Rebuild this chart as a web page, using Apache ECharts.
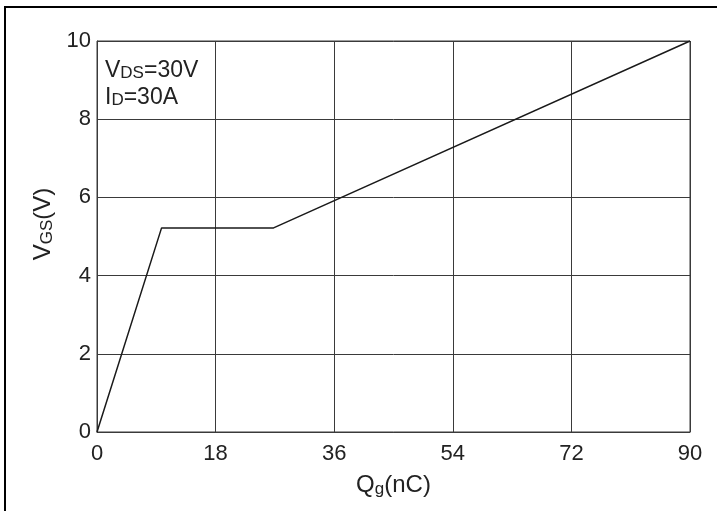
<!DOCTYPE html>
<html>
<head>
<meta charset="utf-8">
<script src="https://cdn.jsdelivr.net/npm/echarts@6/dist/echarts.min.js"></script>
<style>
html,body{margin:0;padding:0;background:#fff;}
#chart{width:717px;height:511px;}
</style>
</head>
<body>
<div id="chart"></div>
<script>
// Data (Qg in nC, VGS in V)
var qgValues = [0, 9.8, 26.8, 90];
var vgsValues = [0, 5.22, 5.22, 10];
var xTicks = [0, 18, 36, 54, 72, 90];
var yTicks = [0, 2, 4, 6, 8, 10];

var seriesData = qgValues.map(function (q, i) { return [q, vgsValues[i]]; });

var chart = echarts.init(document.getElementById('chart'), null, {renderer: 'canvas'});
var FONT = '"Liberation Sans", Arial, sans-serif';
var gridColor = '#3a3a3a';
var textColor = '#222';

function richSet(big, small, lh, subPad) {
  return {
    b: {fontSize: big, fontFamily: FONT, color: textColor, lineHeight: lh, verticalAlign: 'bottom'},
    s: {fontSize: small, fontFamily: FONT, color: textColor, lineHeight: lh, verticalAlign: 'bottom', padding: [0, 0, subPad || 0, 0]}
  };
}

chart.setOption({
  animation: false,
  backgroundColor: '#ffffff',
  grid: {left: 97, top: 41, right: 27, bottom: 79, show: true, borderColor: gridColor, borderWidth: 1, backgroundColor: 'transparent'},
  xAxis: {
    type: 'value',
    min: xTicks[0], max: xTicks[xTicks.length - 1], interval: 18,
    axisLine: {show: true, lineStyle: {color: gridColor, width: 1}},
    axisTick: {show: false},
    splitLine: {show: true, lineStyle: {color: gridColor, width: 1}},
    axisLabel: {color: textColor, fontSize: 22, fontFamily: FONT, margin: 11},
    name: '{b|Q}{s|g}{b|(nC)}',
    nameLocation: 'middle',
    nameGap: 41,
    nameTextStyle: {color: textColor, fontFamily: FONT, rich: richSet(24, 17, 24, -1)}
  },
  yAxis: {
    type: 'value',
    min: yTicks[0], max: yTicks[yTicks.length - 1], interval: 2,
    axisLine: {show: true, lineStyle: {color: gridColor, width: 1}},
    axisTick: {show: false},
    splitLine: {show: true, lineStyle: {color: gridColor, width: 1}},
    axisLabel: {color: textColor, fontSize: 22, fontFamily: FONT, margin: 6},
    name: '{b|V}{s|GS}{b|(V)}',
    nameLocation: 'middle',
    nameGap: 38,
    nameTextStyle: {color: textColor, fontFamily: FONT, padding: [0, 0, 0, 25], rich: richSet(24, 17, 24, 0)}
  },
  series: [{
    type: 'line',
    data: seriesData,
    symbol: 'none',
    lineStyle: {color: '#1a1a1a', width: 1.5},
    z: 5
  }],
  graphic: [
    {type: 'line', shape: {x1: 4, y1: 7, x2: 717, y2: 7}, style: {stroke: '#000', lineWidth: 2}},
    {type: 'line', shape: {x1: 5, y1: 6, x2: 5, y2: 511}, style: {stroke: '#000', lineWidth: 2}},
    {
      type: 'text', left: 105, top: 59, z: 10,
      style: {
        text: '{b|V}{s|DS}{b|=30V}\n{b|I}{s|D}{b|=30A}',
        fill: textColor,
        font: '23px ' + FONT,
        rich: {
          b: {fontSize: 23, fontFamily: FONT, fill: textColor, lineHeight: 27, verticalAlign: 'bottom'},
          s: {fontSize: 17, fontFamily: FONT, fill: textColor, lineHeight: 27, verticalAlign: 'bottom'}
        }
      }
    }
  ]
});
</script>
</body>
</html>
